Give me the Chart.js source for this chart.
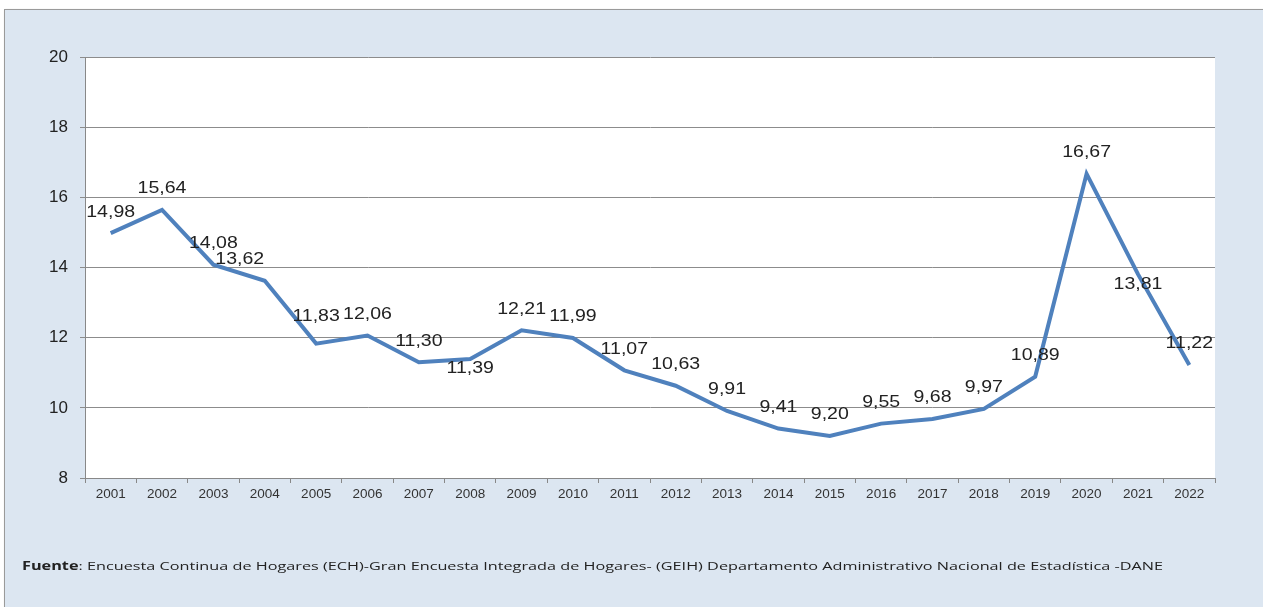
<!DOCTYPE html>
<html>
<head>
<meta charset="utf-8">
<script src="https://cdn.jsdelivr.net/npm/chart.js@4/dist/chart.umd.min.js"></script>
<style>
  body { margin:0; background:#fff; width:1263px; height:607px; overflow:hidden; position:relative; font-family:Arial, "Liberation Sans", sans-serif; }
  #box { position:absolute; left:4px; top:9px; width:1270px; height:610px; background:#dce6f1; border:1px solid #9a9a9a; box-shadow:1px 1px 2px #bbb; }
  #wrap { position:absolute; left:0; top:0; width:1263px; height:607px; }
  #src { position:absolute; left:22px; top:558px; font-family:"Open Sans", "Noto Sans", sans-serif; font-size:11.6px; color:#222; white-space:nowrap; transform-origin:0 0; transform:scaleX(1.4); }
</style>
</head>
<body>
<div id="box"></div>
<div id="wrap"><canvas id="mycanvas" width="1263" height="607"></canvas></div>
<div id="src"><b>Fuente</b>: Encuesta Continua de Hogares (ECH)-Gran Encuesta Integrada de Hogares- (GEIH) Departamento Administrativo Nacional de Estadística -DANE</div>
<script>
var years = ["2001","2002","2003","2004","2005","2006","2007","2008","2009","2010","2011",
             "2012","2013","2014","2015","2016","2017","2018","2019","2020","2021","2022"];
var rate = [14.98,15.64,14.08,13.62,11.83,12.06,11.30,11.39,12.21,11.99,11.07,
            10.63,9.91,9.41,9.20,9.55,9.68,9.97,10.89,16.67,13.81,11.22];
// where each value label sits relative to its point
var labelSide = ["top","top","top","top","top","top","top","bottom","top","top","top",
                 "top","top","top","top","top","top","top","top","top","bottom","top"];

// white plot area
var plotBg = {
  id: 'plotBg',
  beforeDraw: function(chart) {
    var a = chart.chartArea, ctx = chart.ctx;
    ctx.save();
    ctx.fillStyle = '#ffffff';
    ctx.fillRect(a.left, a.top, a.right - a.left, a.bottom - a.top);
    ctx.restore();
  }
};

// value labels with comma decimals (text a bit stretched like the original)
var valueLabels = {
  id: 'valueLabels',
  afterDatasetsDraw: function(chart) {
    var ctx = chart.ctx;
    var meta = chart.getDatasetMeta(0);
    meta.data.forEach(function(pt, i) {
      var txt = rate[i].toFixed(2).replace('.', ',');
      var x = pt.x, y = pt.y - 21;
      if (labelSide[i] == 'bottom') y = pt.y + 10;
      if (i == 3) x = pt.x - 25;
      if (i == 4) y = pt.y - 27;
      ctx.save();
      ctx.translate(x, y);
      ctx.scale(1.22, 1);
      ctx.font = '16px Arial, "Liberation Sans", sans-serif';
      ctx.fillStyle = '#222';
      ctx.textAlign = 'center';
      ctx.textBaseline = 'middle';
      ctx.fillText(txt, 0, 0);
      ctx.restore();
    });
  }
};

var ctx = document.getElementById('mycanvas');
var chart = new Chart(ctx, {
  type: 'line',
  data: {
    labels: years,
    datasets: [{
      data: rate,
      borderColor: '#4f81bd',
      backgroundColor: '#4f81bd',
      borderWidth: 4,
      pointRadius: 0,
      tension: 0,
      fill: false
    }]
  },
  options: {
    responsive: false,
    animation: false,
    layout: { padding: { left: 0, right: 48, top: 57, bottom: 99 } },
    plugins: { legend: { display: false }, tooltip: { enabled: false } },
    scales: {
      x: {
        offset: true,
        grid: { display: true, drawOnChartArea: false, offset: true, tickLength: 5, color: '#888' },
        border: { color: '#888' },
        ticks: { color: '#333', font: { size: 13.5, family: 'Arial' }, padding: 3, maxRotation: 0, autoSkip: false },
        afterFit: function(s) { s.height = 30; }
      },
      y: {
        min: 8, max: 20,
        ticks: { stepSize: 2, color: '#222', font: { size: 17, family: 'Arial' }, padding: 12 },
        grid: { color: '#8c8c8c', tickLength: 5, lineWidth: 1 },
        border: { color: '#888' },
        afterFit: function(s) { s.width = 85; }
      }
    }
  },
  plugins: [plotBg, valueLabels]
});
</script>
</body>
</html>
